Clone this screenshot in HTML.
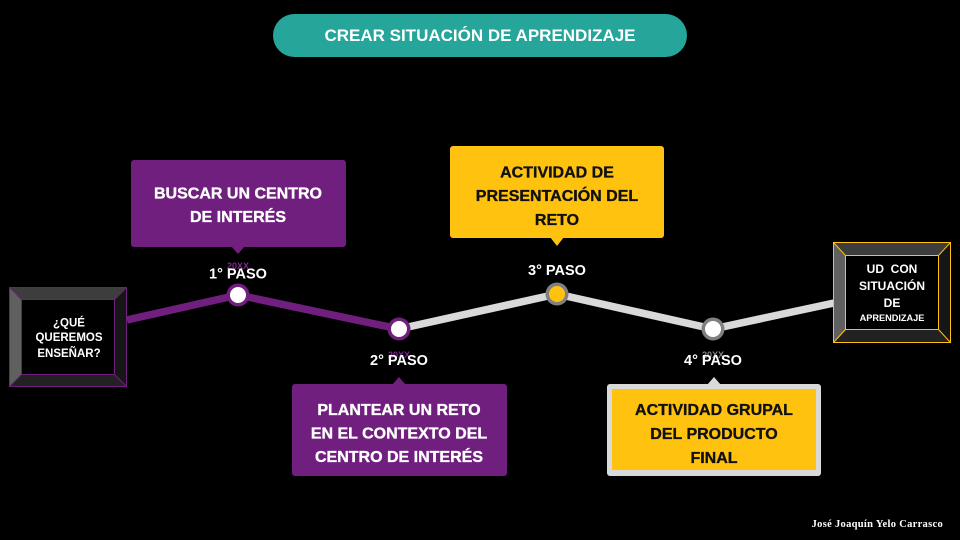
<!DOCTYPE html>
<html>
<head>
<meta charset="utf-8">
<style>
html,body{margin:0;padding:0;background:#000;}
svg{display:block;}
text{font-family:"Liberation Sans",Arial,sans-serif;font-weight:bold;}
.cw{fill:#fff;stroke:#fff;stroke-width:0.35;}
.cb{fill:#111;stroke:#111;stroke-width:0.35;}
</style>
</head>
<body>
<svg width="960" height="540" viewBox="0 0 960 540" xmlns="http://www.w3.org/2000/svg">
  <rect width="960" height="540" fill="#000"/>

  <!-- Title pill -->
  <rect x="273" y="14" width="414" height="43" rx="21.5" fill="#26A69A"/>
  <text x="480" y="41" font-size="17" fill="#fff" text-anchor="middle">CREAR SITUACIÓN DE APRENDIZAJE</text>

  <!-- Timeline lines -->
  <polyline points="127,320 238,295 399,329" fill="none" stroke="#701F7E" stroke-width="7.5" stroke-linejoin="round"/>
  <polyline points="399,329 557,294 713,329 834,303" fill="none" stroke="#D9D9D9" stroke-width="7.5" stroke-linejoin="round"/>

  <!-- Left bevel box -->
  <polygon points="9,287 127,287 115,299 21,299" fill="#3d3d3d"/>
  <polygon points="9,287 21,299 21,375 9,387" fill="#606060"/>
  <polygon points="9,387 21,375 115,375 127,387" fill="#222"/>
  <polygon points="127,287 115,299 115,375 127,387" fill="#161616"/>
  <rect x="21" y="299" width="94" height="76" fill="#000"/>
  <g stroke="#701F7E" stroke-width="1" fill="none">
    <rect x="9.5" y="287.5" width="117" height="99"/>
    <rect x="21.5" y="299.5" width="93" height="75"/>
    <line x1="9.5" y1="287.5" x2="21.5" y2="299.5"/>
    <line x1="126.5" y1="287.5" x2="114.5" y2="299.5"/>
    <line x1="9.5" y1="386.5" x2="21.5" y2="374.5"/>
    <line x1="126.5" y1="386.5" x2="114.5" y2="374.5"/>
  </g>
  <text x="69" y="326.5" font-size="11.5" fill="#fff" text-anchor="middle">¿QUÉ</text>
  <text x="69" y="341" font-size="11.5" fill="#fff" text-anchor="middle">QUEREMOS</text>
  <text x="69" y="357" font-size="11.5" fill="#fff" text-anchor="middle">ENSEÑAR?</text>

  <!-- Right bevel box -->
  <polygon points="833,242 951,242 939,255 845,255" fill="#3d3d3d"/>
  <polygon points="833,242 845,255 845,330 833,343" fill="#606060"/>
  <polygon points="833,343 845,330 939,330 951,343" fill="#222"/>
  <polygon points="951,242 939,255 939,330 951,343" fill="#161616"/>
  <rect x="845" y="255" width="94" height="75" fill="#000"/>
  <g stroke="#FFC20E" stroke-width="1" fill="none">
    <rect x="833.5" y="242.5" width="117" height="100"/>
    <rect x="845.5" y="255.5" width="93" height="74"/>
    <line x1="833.5" y1="242.5" x2="845.5" y2="255.5"/>
    <line x1="950.5" y1="242.5" x2="938.5" y2="255.5"/>
    <line x1="833.5" y1="342.5" x2="845.5" y2="329.5"/>
    <line x1="950.5" y1="342.5" x2="938.5" y2="329.5"/>
  </g>
  <text x="892" y="273" font-size="12" fill="#fff" text-anchor="middle" xml:space="preserve">UD  CON</text>
  <text x="892" y="290" font-size="12" fill="#fff" text-anchor="middle">SITUACIÓN</text>
  <text x="892" y="307" font-size="12" fill="#fff" text-anchor="middle">DE</text>
  <text x="892" y="321" font-size="9.2" fill="#fff" text-anchor="middle">APRENDIZAJE</text>

  <!-- Nodes -->
  <circle cx="238" cy="295" r="11.5" fill="#701F7E"/>
  <circle cx="238" cy="295" r="8" fill="#fff"/>
  <circle cx="399" cy="329" r="11.5" fill="#701F7E"/>
  <circle cx="399" cy="329" r="8" fill="#fff"/>
  <circle cx="557" cy="294" r="11.5" fill="#808080"/>
  <circle cx="557" cy="294" r="8" fill="#FFC20E"/>
  <circle cx="713" cy="329" r="11.5" fill="#808080"/>
  <circle cx="713" cy="329" r="8" fill="#fff"/>

  <!-- 20XX faint labels -->
  <text x="238" y="269" font-size="9" fill="#7b2a8a" text-anchor="middle" font-weight="normal">20XX</text>
  <text x="399" y="358" font-size="9" fill="#7b2a8a" text-anchor="middle" font-weight="normal">20XX</text>
  <text x="713" y="358" font-size="9" fill="#808080" text-anchor="middle" font-weight="normal">20XX</text>

  <!-- PASO labels -->
  <text x="238" y="278.5" font-size="14.5" fill="#fff" text-anchor="middle">1° PASO</text>
  <text x="399" y="365" font-size="14.5" fill="#fff" text-anchor="middle">2° PASO</text>
  <text x="557" y="275" font-size="14.5" fill="#fff" text-anchor="middle">3° PASO</text>
  <text x="713" y="365" font-size="14.5" fill="#fff" text-anchor="middle">4° PASO</text>

  <!-- Callout 1 (purple, top) -->
  <rect x="131" y="160" width="215" height="87" rx="3" fill="#701F7E"/>
  <polygon points="231,246 245,246 238,254" fill="#701F7E"/>
  <text class="cw" x="238" y="198.5" font-size="16" text-anchor="middle">BUSCAR UN CENTRO</text>
  <text class="cw" x="238" y="222" font-size="16" text-anchor="middle">DE INTERÉS</text>

  <!-- Callout 3 (yellow, top) -->
  <rect x="450" y="146" width="214" height="92" rx="3" fill="#FFC20E"/>
  <polygon points="550,237 564,237 557,246" fill="#FFC20E"/>
  <text class="cb" x="557" y="177.5" font-size="16" text-anchor="middle">ACTIVIDAD DE</text>
  <text class="cb" x="557" y="201" font-size="16" text-anchor="middle">PRESENTACIÓN DEL</text>
  <text class="cb" x="557" y="225" font-size="16" text-anchor="middle">RETO</text>

  <!-- Callout 2 (purple, bottom) -->
  <rect x="292" y="384" width="215" height="92" rx="3" fill="#701F7E"/>
  <polygon points="392,385 406,385 399,377" fill="#701F7E"/>
  <text class="cw" x="399" y="415" font-size="16" text-anchor="middle">PLANTEAR UN RETO</text>
  <text class="cw" x="399" y="438.5" font-size="16" text-anchor="middle">EN EL CONTEXTO DEL</text>
  <text class="cw" x="399" y="462" font-size="16" text-anchor="middle">CENTRO DE INTERÉS</text>

  <!-- Callout 4 (yellow with grey border, bottom) -->
  <rect x="607" y="384" width="214" height="92" rx="3" fill="#D9D9D9"/>
  <polygon points="707,385 721,385 714,377" fill="#D9D9D9"/>
  <rect x="612" y="389" width="204" height="81" fill="#FFC20E"/>
  <text class="cb" x="714" y="415" font-size="16" text-anchor="middle">ACTIVIDAD GRUPAL</text>
  <text class="cb" x="714" y="439" font-size="16" text-anchor="middle">DEL PRODUCTO</text>
  <text class="cb" x="714" y="463" font-size="16" text-anchor="middle">FINAL</text>

  <!-- Signature -->
  <text x="943" y="527" font-size="10.5" fill="#fff" text-anchor="end" letter-spacing="0.3" style="font-family:'Liberation Serif',serif;font-weight:bold;">José Joaquín Yelo Carrasco</text>
</svg>
</body>
</html>
